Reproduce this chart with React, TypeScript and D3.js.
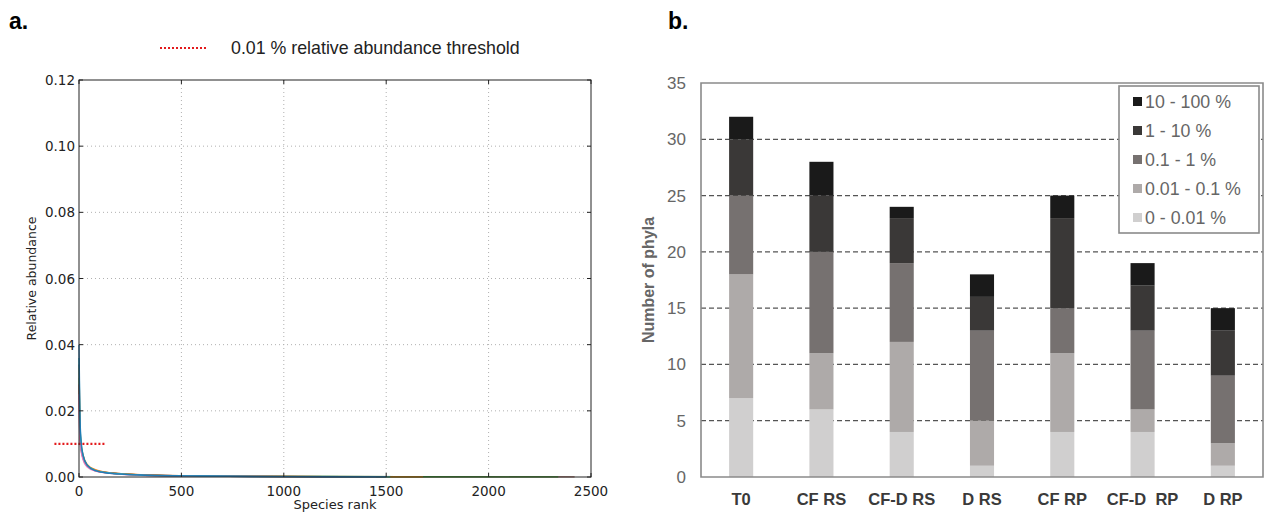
import React, { useEffect, useRef } from 'react';
import * as d3 from 'd3';

// panel a: rank-abundance curves, one per sample, [rank, relative abundance]
const curveColors = ['#8c564b', '#2ca02c', '#ff7f0e', '#d62728', '#e377c2', '#17becf', '#1f77b4'];
const curveBrown = [[0, 0.034], [4, 0.016], [10, 0.0095], [20, 0.0062], [40, 0.0036], [80, 0.0021], [150, 0.0013], [300, 0.0007], [600, 0.00035], [1200, 0.00015], [2000, 0.00006], [2420, 0.00003]];
const curveGreen = [[0, 0.03], [4, 0.015], [10, 0.0092], [20, 0.006], [40, 0.0034], [80, 0.002], [150, 0.0012], [300, 0.00065], [600, 0.0003], [1200, 0.00013], [2000, 0.00005], [2340, 0.00003]];
const curveOrange = [[0, 0.033], [4, 0.017], [10, 0.01], [20, 0.0066], [40, 0.0038], [80, 0.0022], [150, 0.0013], [300, 0.0007], [600, 0.00033], [1200, 0.00012], [1680, 0.00004]];
const curveRed = [[0, 0.028], [4, 0.013], [10, 0.0085], [20, 0.0056], [40, 0.0033], [80, 0.0019], [150, 0.0012], [300, 0.0006], [600, 0.0003], [1000, 0.00014], [1500, 0.00004]];
const curvePink = [[0, 0.025], [4, 0.012], [10, 0.008], [20, 0.0052], [40, 0.003], [80, 0.0018], [150, 0.0011], [300, 0.00055], [600, 0.00025], [1000, 0.00012], [1450, 0.00004]];
const curveCyan = [[0, 0.036], [4, 0.018], [10, 0.0105], [20, 0.0064], [40, 0.0036], [80, 0.002], [150, 0.0012], [300, 0.00062], [600, 0.0003], [1000, 0.00013], [1520, 0.00004]];
const curveBlue = [[0, 0.04], [4, 0.02], [10, 0.011], [20, 0.0066], [40, 0.0036], [80, 0.0019], [150, 0.0011], [300, 0.0006], [600, 0.00028], [1000, 0.00012], [1500, 0.00004]];
const curves = [curveBrown, curveGreen, curveOrange, curveRed, curvePink, curveCyan, curveBlue];
const threshold = 0.01;
const thresholdRanks = [-120, 130];
const xTicksA = [0, 500, 1000, 1500, 2000, 2500];
const yTicksA = [0, 0.02, 0.04, 0.06, 0.08, 0.1, 0.12];

// panel b: number of phyla per abundance class
const samples = ['T0', 'CF RS', 'CF-D RS', 'D RS', 'CF RP', 'CF-D  RP', 'D RP'];
const classes = ['0 - 0.01 %', '0.01 - 0.1 %', '0.1 - 1 %', '1 - 10 %', '10 - 100 %'];
const classColors = ['#d0cfcf', '#aeaaa9', '#767170', '#3a3837', '#1a1a1a'];
const rare = [7, 6, 4, 1, 4, 4, 1];
const lowAbund = [11, 5, 8, 4, 7, 2, 2];
const midAbund = [7, 9, 7, 8, 4, 7, 6];
const highAbund = [5, 5, 4, 3, 8, 4, 4];
const dominant = [2, 3, 1, 2, 2, 2, 2];
const yTicksB = [0, 5, 10, 15, 20, 25, 30, 35];

function App() {
  const svgRef = useRef<SVGSVGElement>(null);

  useEffect(() => {
    const svg = d3.select(svgRef.current);
    svg.selectAll('*').remove();

    // ---------- panel a ----------
    const ax = { left: 79, right: 591, top: 80, bottom: 477 };
    const x = d3.scaleLinear().domain([0, 2500]).range([ax.left, ax.right]);
    const y = d3.scaleLinear().domain([0, 0.12]).range([ax.bottom, ax.top]);
    const fontA = 'DejaVu Sans, sans-serif';

    const a = svg.append('g');
    a.append('text').attr('x', 9).attr('y', 29).attr('font-family', 'Liberation Sans, Arial, sans-serif')
      .attr('font-weight', 'bold').attr('font-size', 23).text('a.');

    // threshold legend
    a.append('line').attr('x1', 160).attr('x2', 208).attr('y1', 48).attr('y2', 48)
      .attr('stroke', '#e31a1c').attr('stroke-width', 2.2).attr('stroke-dasharray', '2,2');
    a.append('text').attr('x', 231).attr('y', 54).attr('font-family', 'Liberation Sans, Arial, sans-serif')
      .attr('font-size', 17.8).attr('fill', '#222').text('0.01 % relative abundance threshold');

    // grid
    a.selectAll('.gx').data(xTicksA.slice(1, -1)).enter().append('line')
      .attr('x1', d => x(d)).attr('x2', d => x(d)).attr('y1', ax.top).attr('y2', ax.bottom)
      .attr('stroke', '#b0b0b0').attr('stroke-dasharray', '1,3');
    a.selectAll('.gy').data(yTicksA.slice(1, -1)).enter().append('line')
      .attr('x1', ax.left).attr('x2', ax.right).attr('y1', d => y(d)).attr('y2', d => y(d))
      .attr('stroke', '#b0b0b0').attr('stroke-dasharray', '1,3');

    // curves
    const line = d3.line<number[]>().x(d => x(d[0])).y(d => y(d[1])).curve(d3.curveMonotoneX);
    a.selectAll('.curve').data(curves).enter().append('path')
      .attr('d', d => line(d)).attr('fill', 'none')
      .attr('stroke', (d, i) => curveColors[i]).attr('stroke-width', 1.4).attr('opacity', 0.9);

    // threshold line
    a.append('line').attr('x1', x(thresholdRanks[0])).attr('x2', x(thresholdRanks[1]))
      .attr('y1', y(threshold)).attr('y2', y(threshold))
      .attr('stroke', '#e31a1c').attr('stroke-width', 2.2).attr('stroke-dasharray', '2,2');

    // frame + ticks
    a.append('rect').attr('x', ax.left).attr('y', ax.top).attr('width', ax.right - ax.left)
      .attr('height', ax.bottom - ax.top).attr('fill', 'none').attr('stroke', '#222').attr('stroke-width', 1);
    a.selectAll('.tx').data(xTicksA).enter().append('line')
      .attr('x1', d => x(d)).attr('x2', d => x(d)).attr('y1', ax.bottom).attr('y2', ax.bottom - 4)
      .attr('stroke', '#222');
    a.selectAll('.tx2').data(xTicksA).enter().append('line')
      .attr('x1', d => x(d)).attr('x2', d => x(d)).attr('y1', ax.top).attr('y2', ax.top + 4)
      .attr('stroke', '#222');
    a.selectAll('.ty').data(yTicksA).enter().append('line')
      .attr('x1', ax.left).attr('x2', ax.left + 4).attr('y1', d => y(d)).attr('y2', d => y(d))
      .attr('stroke', '#222');
    a.selectAll('.ty2').data(yTicksA).enter().append('line')
      .attr('x1', ax.right).attr('x2', ax.right - 4).attr('y1', d => y(d)).attr('y2', d => y(d))
      .attr('stroke', '#222');

    a.selectAll('.lx').data(xTicksA).enter().append('text')
      .attr('x', d => x(d)).attr('y', ax.bottom + 19).attr('text-anchor', 'middle')
      .attr('font-family', fontA).attr('font-size', 13.5).attr('fill', '#222').text(d => d);
    a.selectAll('.ly').data(yTicksA).enter().append('text')
      .attr('x', ax.left - 4).attr('y', d => y(d) + 5).attr('text-anchor', 'end')
      .attr('font-family', fontA).attr('font-size', 13.5).attr('fill', '#222').text(d => d.toFixed(2));

    a.append('text').attr('x', (ax.left + ax.right) / 2).attr('y', 509).attr('text-anchor', 'middle')
      .attr('font-family', fontA).attr('font-size', 13).attr('fill', '#222').text('Species rank');
    a.append('text').attr('transform', `translate(36,${(ax.top + ax.bottom) / 2}) rotate(-90)`)
      .attr('text-anchor', 'middle').attr('font-family', fontA).attr('font-size', 12.5)
      .attr('fill', '#222').text('Relative abundance');

    // ---------- panel b ----------
    const bx = { left: 701, right: 1263, top: 83, bottom: 477 };
    const fontB = 'Liberation Sans, Arial, sans-serif';
    const xb = d3.scaleBand().domain(samples).range([bx.left, bx.right]).paddingInner(0.7).paddingOuter(0.35);
    const yb = d3.scaleLinear().domain([0, 35]).range([bx.bottom, bx.top]);

    const b = svg.append('g');
    b.append('text').attr('x', 668).attr('y', 29).attr('font-family', fontB)
      .attr('font-weight', 'bold').attr('font-size', 23).text('b.');

    b.selectAll('.gb').data(yTicksB.slice(1, -1)).enter().append('line')
      .attr('x1', bx.left).attr('x2', bx.right).attr('y1', d => yb(d)).attr('y2', d => yb(d))
      .attr('stroke', '#555').attr('stroke-width', 1.2).attr('stroke-dasharray', '5,3');

    const table = samples.map((s, i) => ({
      sample: s,
      c0: rare[i], c1: lowAbund[i], c2: midAbund[i], c3: highAbund[i], c4: dominant[i]
    }));
    const stack = d3.stack<any>().keys(['c0', 'c1', 'c2', 'c3', 'c4'])(table);

    b.selectAll('.layer').data(stack).enter().append('g')
      .attr('fill', (d, i) => classColors[i])
      .selectAll('rect').data(d => d).enter().append('rect')
      .attr('x', d => xb(d.data.sample) as number)
      .attr('width', xb.bandwidth())
      .attr('y', d => yb(d[1]))
      .attr('height', d => yb(d[0]) - yb(d[1]));

    b.append('path')
      .attr('d', `M${bx.left},${bx.top}H${bx.right}V${bx.bottom}H${bx.left}Z`)
      .attr('fill', 'none').attr('stroke', '#8a8a8a').attr('stroke-width', 1.6);

    b.selectAll('.lyb').data(yTicksB).enter().append('text')
      .attr('x', 686).attr('y', d => yb(d) + 6).attr('text-anchor', 'end')
      .attr('font-family', fontB).attr('font-size', 17).attr('fill', '#666').text(d => d);
    b.selectAll('.lxb').data(samples).enter().append('text')
      .attr('x', d => (xb(d) as number) + xb.bandwidth() / 2).attr('y', 505)
      .attr('text-anchor', 'middle').attr('font-family', fontB).attr('font-weight', 'bold')
      .attr('font-size', 16.5).attr('fill', '#3a3a3a').attr('xml:space', 'preserve')
      .style('white-space', 'pre').text(d => d);
    b.append('text').attr('transform', `translate(654,${(bx.top + bx.bottom) / 2}) rotate(-90)`)
      .attr('text-anchor', 'middle').attr('font-family', fontB).attr('font-weight', 'bold')
      .attr('font-size', 16).attr('fill', '#666').text('Number of phyla');

    // legend, top class first
    const lg = b.append('g');
    lg.append('rect').attr('x', 1119).attr('y', 86).attr('width', 140).attr('height', 147)
      .attr('fill', '#fff').attr('stroke', '#8a8a8a').attr('stroke-width', 1.6);
    const order = d3.range(classes.length).reverse();
    lg.selectAll('.sw').data(order).enter().append('rect')
      .attr('x', 1133).attr('y', (d, i) => 97 + i * 29).attr('width', 9).attr('height', 9)
      .attr('fill', d => classColors[d]);
    lg.selectAll('.lt').data(order).enter().append('text')
      .attr('x', 1145).attr('y', (d, i) => 108 + i * 29)
      .attr('font-family', fontB).attr('font-size', 17.8).attr('fill', '#666').text(d => classes[d]);
  }, []);

  return (
    <svg ref={svgRef} width={1266} height={512}
         style={{ position: 'absolute', left: 0, top: 0, background: '#fff' }} />
  );
}

export default App;
